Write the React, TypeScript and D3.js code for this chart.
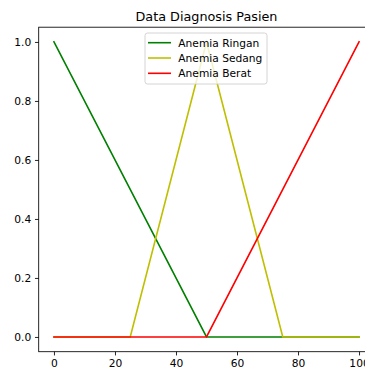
import { useEffect, useRef } from 'react';
import * as d3 from 'd3';

// Membership functions
const xRingan = [0, 50, 100];
const yRingan = [1, 0, 0];
const xSedang = [0, 25, 50, 75, 100];
const ySedang = [0, 0, 1, 0, 0];
const xBerat = [0, 50, 100];
const yBerat = [0, 0, 1];

const seriesNames = ['Anemia Ringan', 'Anemia Sedang', 'Anemia Berat'];
const seriesColors = ['#008000', '#bfbf00', '#ff0000'];

const xTicks = [0, 20, 40, 60, 80, 100];
const yTicks = [0, 0.2, 0.4, 0.6, 0.8, 1.0];

const title = 'Data Diagnosis Pasien';

const width = 365;
const height = 369;

export default function App() {
	const svgRef = useRef<SVGSVGElement>(null);

	useEffect(() => {
		if (!svgRef.current) return;
		const svg = d3.select(svgRef.current);
		svg.selectAll('*').remove();

		const font = '"DejaVu Sans", sans-serif';
		const k = 1.066; // figure scale relative to 72 dpi
		const left = 38.7;
		const right = 374.3;
		const top = 27.2;
		const bottom = 351.7;

		const x = d3.scaleLinear().domain([-5, 105]).range([left, right]);
		const y = d3.scaleLinear().domain([-0.05, 1.05]).range([bottom, top]);

		svg.append('rect').attr('width', width).attr('height', height).attr('fill', '#fff');

		const line = d3
			.line<[number, number]>()
			.x((d) => x(d[0]))
			.y((d) => y(d[1]));

		const series = [
			d3.zip(xRingan, yRingan) as [number, number][],
			d3.zip(xSedang, ySedang) as [number, number][],
			d3.zip(xBerat, yBerat) as [number, number][],
		];

		series.forEach((pts, i) => {
			svg
				.append('path')
				.datum(pts)
				.attr('fill', 'none')
				.attr('stroke', seriesColors[i])
				.attr('stroke-width', 1.5 * k)
				.attr('stroke-linecap', 'square')
				.attr('d', line);
		});

		// Spines
		svg
			.append('rect')
			.attr('x', left)
			.attr('y', top)
			.attr('width', right - left)
			.attr('height', bottom - top)
			.attr('fill', 'none')
			.attr('stroke', '#000')
			.attr('stroke-width', 0.8 * k);

		// X axis
		const xAxis = svg
			.append('g')
			.attr('transform', `translate(0,${bottom})`)
			.call(
				d3
					.axisBottom(x)
					.tickValues(xTicks)
					.tickSize(3.5 * k)
					.tickPadding(3.5 * k)
					.tickFormat((d) => String(d))
			);
		xAxis.select('.domain').remove();
		xAxis.selectAll('line').attr('stroke', '#000').attr('stroke-width', 0.8 * k);
		xAxis.selectAll('text').attr('font-family', font).attr('font-size', 10 * k).attr('fill', '#000');

		// Y axis
		const yAxis = svg
			.append('g')
			.attr('transform', `translate(${left},0)`)
			.call(
				d3
					.axisLeft(y)
					.tickValues(yTicks)
					.tickSize(3.5 * k)
					.tickPadding(3.5 * k)
					.tickFormat((d) => d3.format('.1f')(d as number))
			);
		yAxis.select('.domain').remove();
		yAxis.selectAll('line').attr('stroke', '#000').attr('stroke-width', 0.8 * k);
		yAxis.selectAll('text').attr('font-family', font).attr('font-size', 10 * k).attr('fill', '#000');

		// Title
		svg
			.append('text')
			.attr('x', (left + right) / 2)
			.attr('y', top - 6 * k)
			.attr('text-anchor', 'middle')
			.attr('font-family', font)
			.attr('font-size', 12 * k)
			.attr('fill', '#000')
			.text(title);

		// Legend
		const lg = svg.append('g').attr('transform', 'translate(145,33)');
		lg.append('rect')
			.attr('width', 122)
			.attr('height', 51)
			.attr('rx', 2.5)
			.attr('fill', '#fff')
			.attr('fill-opacity', 0.8)
			.attr('stroke', '#cccccc')
			.attr('stroke-width', 0.8 * k);
		seriesNames.forEach((name, i) => {
			const cy = 9.7 + i * 15.3;
			lg.append('line')
				.attr('x1', 3)
				.attr('x2', 26)
				.attr('y1', cy)
				.attr('y2', cy)
				.attr('stroke', seriesColors[i])
				.attr('stroke-width', 1.5 * k);
			lg.append('text')
				.attr('x', 33.3)
				.attr('y', cy + 3.8)
				.attr('font-family', font)
				.attr('font-size', 10 * k)
				.attr('fill', '#000')
				.text(name);
		});
	}, []);

	return (
		<div style={{ position: 'fixed', left: 0, top: 0 }}>
			<svg ref={svgRef} width={width} height={height} style={{ display: 'block' }}></svg>
		</div>
	);
}
